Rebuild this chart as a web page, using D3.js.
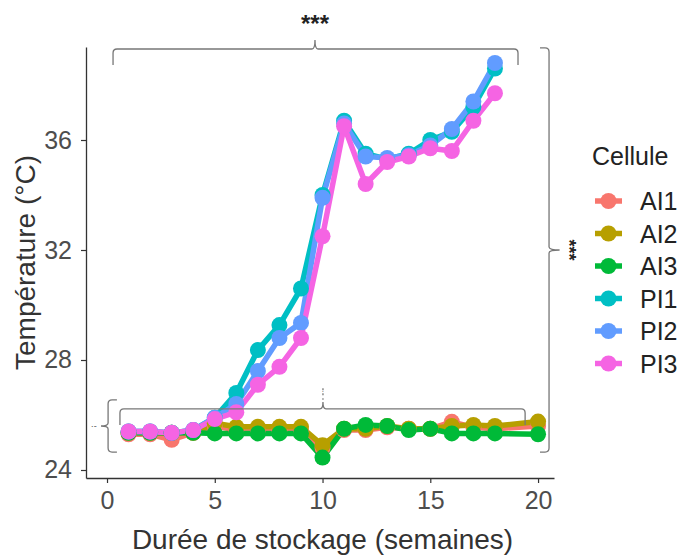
<!DOCTYPE html>
<html>
<head>
<meta charset="utf-8">
<script src="https://cdn.jsdelivr.net/npm/d3@7"></script>
<style>
  body { margin: 0; background: #fff; }
  text { font-family: "Liberation Sans", Arial, sans-serif; }
</style>
</head>
<body>
<svg id="chart" width="700" height="559"></svg>
<script>
// Data
const cellules = ['AI1', 'AI2', 'AI3', 'PI1', 'PI2', 'PI3'];
const colours = ['#F8766D', '#B79F00', '#00BA38', '#00BFC4', '#619CFF', '#F564E3'];

const weeksAI = [1, 2, 3, 4, 5, 6, 7, 8, 9, 10, 11, 12, 13, 14, 15, 16, 17, 18, 20];
const weeksPI = [1, 2, 3, 4, 5, 6, 7, 8, 9, 10, 11, 12, 13, 14, 15, 16, 17, 18];

const AI1 = [25.3, 25.3, 25.1, 25.35, 25.6, 25.45, 25.45, 25.45, 25.45, 24.8, 25.45, 25.45, 25.55, 25.5, 25.5, 25.75, 25.55, 25.5, 25.6];
const AI2 = [25.35, 25.35, 25.35, 25.35, 25.7, 25.57, 25.57, 25.57, 25.57, 24.9, 25.5, 25.5, 25.6, 25.5, 25.5, 25.6, 25.64, 25.6, 25.76];
const AI3 = [25.35, 25.35, 25.35, 25.35, 25.33, 25.33, 25.33, 25.33, 25.33, 24.45, 25.5, 25.64, 25.6, 25.45, 25.5, 25.33, 25.33, 25.33, 25.3];
const PI1 = [25.4, 25.4, 25.35, 25.45, 25.9, 26.8, 28.36, 29.27, 30.6, 34.0, 36.7, 35.5, 35.3, 35.5, 36.0, 36.3, 37.2, 38.6];
const PI2 = [25.4, 25.4, 25.35, 25.45, 25.9, 26.4, 27.6, 28.8, 29.35, 33.9, 36.6, 35.4, 35.35, 35.45, 35.8, 36.4, 37.4, 38.8];
const PI3 = [25.4, 25.4, 25.35, 25.45, 25.85, 26.1, 27.1, 27.75, 28.8, 32.5, 36.5, 34.4, 35.2, 35.4, 35.7, 35.6, 36.7, 37.7];

const xTicks = [0, 5, 10, 15, 20];
const yTicks = [24, 28, 32, 36];

const series = [
  { name: 'AI1', weeks: weeksAI, values: AI1 },
  { name: 'AI2', weeks: weeksAI, values: AI2 },
  { name: 'AI3', weeks: weeksAI, values: AI3 },
  { name: 'PI1', weeks: weeksPI, values: PI1 },
  { name: 'PI2', weeks: weeksPI, values: PI2 },
  { name: 'PI3', weeks: weeksPI, values: PI3 },
];

// Layout
const svg = d3.select('#chart');
const panel = { left: 86, right: 554, top: 47, bottom: 478 };

const x = d3.scaleLinear().domain([-0.975, 20.74]).range([panel.left, panel.right]);
const y = d3.scaleLinear().domain([23.709, 39.382]).range([panel.bottom, panel.top]);
const colour = d3.scaleOrdinal().domain(cellules).range(colours);

const axisColour = '#333';
const tickColour = '#4d4d4d';

// Axes
const xAxis = svg.append('g')
  .attr('transform', `translate(0,${panel.bottom})`)
  .call(d3.axisBottom(x).tickValues(xTicks).tickSize(5).tickPadding(8).tickSizeOuter(0));
const yAxis = svg.append('g')
  .attr('transform', `translate(${panel.left},0)`)
  .call(d3.axisLeft(y).tickValues(yTicks).tickSize(5).tickPadding(9).tickSizeOuter(0));

[xAxis, yAxis].forEach((g) => {
  g.select('.domain').attr('stroke', axisColour).attr('stroke-width', 1.3);
  g.selectAll('.tick line').attr('stroke', axisColour).attr('stroke-width', 1.2);
  g.selectAll('.tick text')
    .attr('fill', tickColour)
    .style('font-size', '25px');
});

// Axis titles
svg.append('text')
  .attr('x', (x(0) + x(20)) / 2)
  .attr('y', 549)
  .attr('text-anchor', 'middle')
  .attr('fill', '#333')
  .style('font-size', '28px')
  .text('Durée de stockage (semaines)');

svg.append('text')
  .attr('transform', `translate(35,${(panel.top + panel.bottom) / 2}) rotate(-90)`)
  .attr('text-anchor', 'middle')
  .attr('fill', '#333')
  .style('font-size', '28px')
  .text('Température (°C)');

// Lines then points
const line = d3.line()
  .x((d) => x(d[0]))
  .y((d) => y(d[1]));

const plot = svg.append('g');
series.forEach((s) => {
  plot.append('path')
    .datum(d3.zip(s.weeks, s.values))
    .attr('fill', 'none')
    .attr('stroke', colour(s.name))
    .attr('stroke-width', 5.5)
    .attr('stroke-linejoin', 'round')
    .attr('d', line);
});
series.forEach((s) => {
  plot.append('g')
    .selectAll('circle')
    .data(d3.zip(s.weeks, s.values))
    .enter().append('circle')
    .attr('cx', (d) => x(d[0]))
    .attr('cy', (d) => y(d[1]))
    .attr('r', 8)
    .attr('fill', colour(s.name));
});

// Significance brackets
const bracketColour = '#777';
const ann = svg.append('g')
  .attr('fill', 'none')
  .attr('stroke', bracketColour)
  .attr('stroke-width', 1.3);

// horizontal brace: ends at x1, x2 on line yl, tips going to yt, notch at xc toward yn
const hBrace = (x1, x2, yl, yt, xc, yn) => {
  const r = 4;
  const s = yt > yl ? 1 : -1;
  return `M${x1},${yt} L${x1},${yl + s * r} Q${x1},${yl} ${x1 + r},${yl}`
    + ` L${xc - 3},${yl} Q${xc},${yl} ${xc},${yn} Q${xc},${yl} ${xc + 3},${yl}`
    + ` L${x2 - r},${yl} Q${x2},${yl} ${x2},${yl + s * r} L${x2},${yt}`;
};
// vertical brace: ends at y1, y2 on line xl, tips going to xt, notch at yc toward xn
const vBrace = (y1, y2, xl, xt, yc, xn) => {
  const r = 4;
  const s = xt > xl ? 1 : -1;
  return `M${xt},${y1} L${xl + s * r},${y1} Q${xl},${y1} ${xl},${y1 + r}`
    + ` L${xl},${yc - 3} Q${xl},${yc} ${xn},${yc} Q${xl},${yc} ${xl},${yc + 3}`
    + ` L${xl},${y2 - r} Q${xl},${y2} ${xl + s * r},${y2} L${xt},${y2}`;
};

// top: PI vs AI over time
ann.append('path').attr('d', hBrace(x(0.28), x(19.07), y(39.31), y(38.73), x(9.65), y(39.64)));
svg.append('text')
  .attr('x', x(9.65))
  .attr('y', 32)
  .attr('text-anchor', 'middle')
  .attr('fill', '#222')
  .style('font-size', '24px')
  .style('font-weight', 'bold')
  .text('***');

// right: between cellules
ann.append('path').attr('d', vBrace(y(39.35), y(24.65), x(20.51), x(20.09), y(32.0), x(21.0)));
svg.append('text')
  .attr('transform', `translate(${x(21.45)},${y(32.0)}) rotate(90)`)
  .attr('text-anchor', 'middle')
  .attr('dominant-baseline', 'central')
  .attr('fill', '#222')
  .style('font-size', '18px')
  .style('font-weight', 'bold')
  .text('***');

// lower: AI group
ann.append('path').attr('d', hBrace(x(0.6), x(19.4), y(26.22), y(25.64), x(10.02), y(26.47)));
ann.append('line')
  .attr('x1', x(10.02)).attr('x2', x(10.02))
  .attr('y1', y(26.97)).attr('y2', y(26.55))
  .attr('stroke-dasharray', '2,3');
svg.append('text')
  .attr('x', x(10.02))
  .attr('y', 392)
  .attr('text-anchor', 'middle')
  .attr('fill', '#555')
  .style('font-size', '8px')
  .text('.');

// left small brace
ann.append('path').attr('d', vBrace(y(26.55), y(24.65), x(0.05), x(0.46), y(25.6), x(-0.28)));
svg.append('text')
  .attr('x', x(-0.62))
  .attr('y', y(25.6))
  .attr('text-anchor', 'middle')
  .attr('dominant-baseline', 'central')
  .attr('fill', '#555')
  .style('font-size', '9px')
  .text('·-');

// Legend
const legend = svg.append('g').attr('transform', 'translate(592,0)');
legend.append('text')
  .attr('x', 0)
  .attr('y', 165)
  .attr('fill', '#222')
  .style('font-size', '25px')
  .text('Cellule');

const rows = legend.selectAll('.row')
  .data(cellules)
  .enter().append('g')
  .attr('class', 'row')
  .attr('transform', (d, i) => `translate(0,${201 + i * 32.5})`);
rows.append('line')
  .attr('x1', 3).attr('x2', 30)
  .attr('stroke', (d) => colour(d))
  .attr('stroke-width', 5.5);
rows.append('circle')
  .attr('cx', 16.5)
  .attr('r', 8)
  .attr('fill', (d) => colour(d));
rows.append('text')
  .attr('x', 48)
  .attr('y', 9)
  .attr('fill', '#222')
  .style('font-size', '25px')
  .text((d) => d);
</script>
</body>
</html>
